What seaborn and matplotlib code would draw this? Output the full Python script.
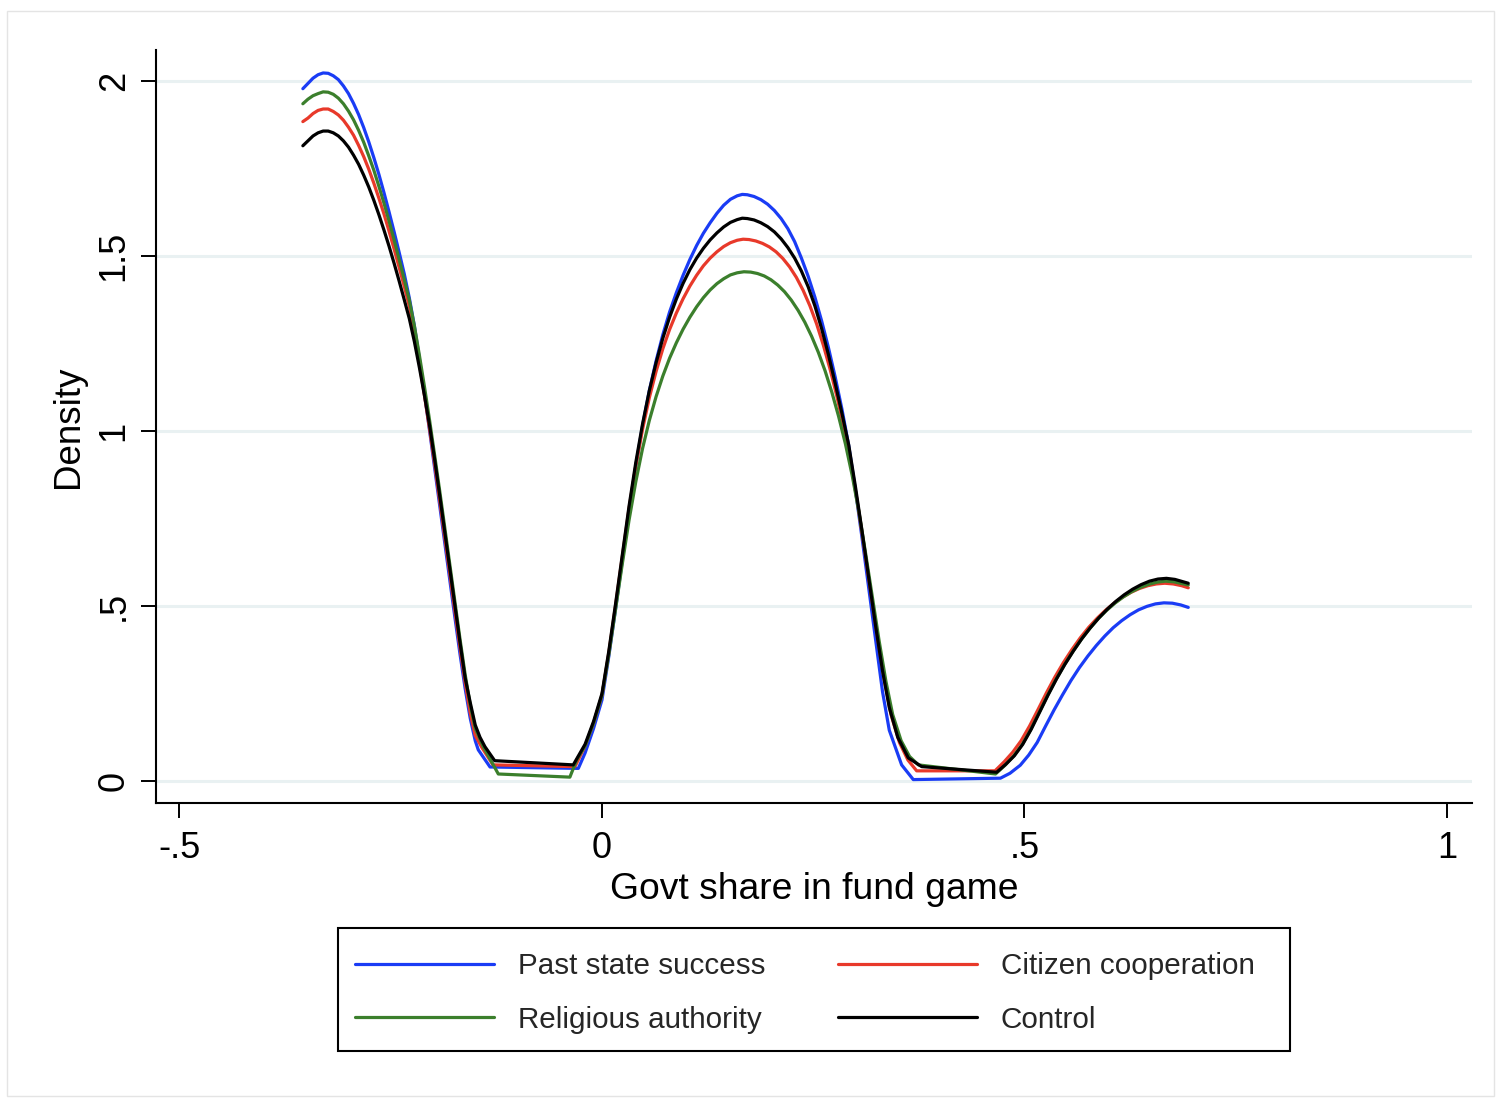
import numpy as np
import pandas as pd
import matplotlib
matplotlib.use("Agg")
import matplotlib.pyplot as plt
import seaborn as sns
from matplotlib.lines import Line2D
from matplotlib.patches import Rectangle

# Kernel density estimates of the government share, one curve per treatment arm.
# Left lobe grid shared by all four arms.
left_grid = [-0.354, -0.348, -0.342, -0.336, -0.330, -0.324, -0.318, -0.312, -0.306, -0.300,
             -0.294, -0.288, -0.282, -0.276, -0.270, -0.264, -0.258, -0.252, -0.246, -0.240,
             -0.234, -0.228, -0.222, -0.216, -0.210, -0.204, -0.198, -0.192, -0.186, -0.180,
             -0.174, -0.168, -0.162, -0.156, -0.150]
# Rising side of the middle lobe, shared grid
mid_left_grid = [0.000, 0.008, 0.016, 0.024, 0.032, 0.040, 0.048, 0.056, 0.064, 0.072,
                 0.080, 0.088, 0.096, 0.104, 0.112, 0.120, 0.128, 0.136, 0.144, 0.152, 0.160]

# --- Past state success ---
past_state_x = left_grid + [-0.1464, -0.1325, -0.028, -0.020, -0.010] + mid_left_grid + [
    0.166, 0.172, 0.180, 0.188, 0.196, 0.204, 0.212, 0.220, 0.228, 0.236, 0.244, 0.252,
    0.260, 0.268, 0.276, 0.284, 0.292, 0.300, 0.308, 0.316, 0.324, 0.332, 0.340, 0.3546,
    0.3684, 0.4715, 0.4828, 0.495, 0.505, 0.515, 0.525, 0.535, 0.545, 0.555, 0.565, 0.575,
    0.585, 0.595, 0.605, 0.615, 0.625, 0.635, 0.645, 0.655, 0.665, 0.675, 0.685, 0.6938]
past_state_y = [
    1.978, 1.993, 2.008, 2.018, 2.023, 2.022, 2.015, 2.004, 1.986, 1.964,
    1.936, 1.904, 1.867, 1.826, 1.781, 1.733, 1.681, 1.626, 1.569, 1.510,
    1.449, 1.380, 1.300, 1.205, 1.105, 1.000, 0.893, 0.786, 0.679, 0.572,
    0.466, 0.362, 0.265, 0.180, 0.115,
    0.089, 0.040, 0.036, 0.080, 0.150,
    0.232, 0.355, 0.490, 0.630, 0.770, 0.900, 1.015, 1.115, 1.200, 1.275,
    1.340, 1.395, 1.445, 1.490, 1.530, 1.565, 1.595, 1.622, 1.645, 1.662, 1.672,
    1.676, 1.675, 1.670, 1.661, 1.648, 1.630, 1.607, 1.578, 1.541, 1.494, 1.442, 1.382,
    1.314, 1.238, 1.154, 1.062, 0.958, 0.830, 0.690, 0.545, 0.400, 0.255, 0.145, 0.046,
    0.004, 0.008, 0.022, 0.045, 0.074, 0.110, 0.157, 0.203, 0.246, 0.287, 0.324, 0.357,
    0.387, 0.414, 0.438, 0.458, 0.475, 0.489, 0.499, 0.506, 0.509, 0.508, 0.503, 0.496]

# --- Citizen cooperation ---
citizen_x = left_grid + [-0.142, -0.129, -0.032, -0.020, -0.010] + mid_left_grid + [
    0.167, 0.174, 0.182, 0.190, 0.198, 0.206, 0.214, 0.222, 0.230, 0.238, 0.246, 0.254,
    0.262, 0.270, 0.278, 0.286, 0.294, 0.302, 0.310, 0.318, 0.326, 0.334, 0.342, 0.352,
    0.362, 0.3724, 0.4651, 0.476, 0.486, 0.496, 0.506, 0.516, 0.526, 0.536, 0.546, 0.556,
    0.566, 0.576, 0.586, 0.596, 0.606, 0.616, 0.626, 0.636, 0.646, 0.656, 0.666, 0.676,
    0.686, 0.6938]
citizen_y = [
    1.884, 1.894, 1.907, 1.916, 1.920, 1.920, 1.913, 1.903, 1.888, 1.868,
    1.845, 1.816, 1.784, 1.748, 1.708, 1.665, 1.620, 1.571, 1.520, 1.467,
    1.413, 1.357, 1.280, 1.192, 1.100, 1.005, 0.905, 0.800, 0.695, 0.590,
    0.484, 0.380, 0.282, 0.195, 0.130,
    0.095, 0.046, 0.041, 0.100, 0.165,
    0.245, 0.365, 0.500, 0.640, 0.778, 0.900, 1.005, 1.095, 1.170, 1.235,
    1.290, 1.337, 1.378, 1.414, 1.445, 1.472, 1.494, 1.512, 1.527, 1.538, 1.545,
    1.548, 1.547, 1.543, 1.536, 1.526, 1.512, 1.493, 1.469, 1.439, 1.402, 1.358, 1.306,
    1.245, 1.176, 1.099, 1.013, 0.915, 0.800, 0.672, 0.540, 0.410, 0.290, 0.190, 0.110,
    0.060, 0.029, 0.029, 0.055, 0.082, 0.115, 0.157, 0.204, 0.252, 0.297, 0.338, 0.375,
    0.409, 0.439, 0.465, 0.488, 0.508, 0.525, 0.539, 0.550, 0.558, 0.563, 0.565, 0.563,
    0.558, 0.552]

# --- Religious authority ---
religious_x = left_grid + [-0.1405, -0.1227, -0.038, -0.030, -0.020, -0.010] + mid_left_grid + [
    0.168, 0.176, 0.184, 0.192, 0.200, 0.208, 0.216, 0.224, 0.232, 0.240, 0.248, 0.256,
    0.264, 0.272, 0.280, 0.288, 0.296, 0.304, 0.312, 0.320, 0.328, 0.336, 0.344, 0.354,
    0.364, 0.3744, 0.4657, 0.477, 0.487, 0.497, 0.507, 0.517, 0.527, 0.537, 0.547, 0.557,
    0.567, 0.577, 0.587, 0.597, 0.607, 0.617, 0.627, 0.637, 0.647, 0.657, 0.667, 0.677,
    0.6938]
religious_y = [
    1.935, 1.948, 1.958, 1.964, 1.969, 1.968, 1.962, 1.951, 1.935, 1.914,
    1.889, 1.859, 1.825, 1.786, 1.745, 1.699, 1.651, 1.600, 1.546, 1.490,
    1.433, 1.374, 1.300, 1.215, 1.125, 1.030, 0.930, 0.828, 0.723, 0.617,
    0.511, 0.405, 0.305, 0.218, 0.150,
    0.098, 0.020, 0.011, 0.060, 0.100, 0.165,
    0.245, 0.360, 0.490, 0.620, 0.745, 0.855, 0.950, 1.030, 1.098, 1.157,
    1.208, 1.252, 1.291, 1.325, 1.355, 1.381, 1.403, 1.421, 1.435, 1.446, 1.452,
    1.455, 1.454, 1.450, 1.443, 1.432, 1.417, 1.398, 1.374, 1.345, 1.311, 1.271, 1.225,
    1.172, 1.111, 1.042, 0.964, 0.874, 0.770, 0.650, 0.525, 0.400, 0.285, 0.190, 0.115,
    0.070, 0.046, 0.020, 0.045, 0.071, 0.103, 0.145, 0.194, 0.243, 0.289, 0.331, 0.369,
    0.404, 0.435, 0.463, 0.487, 0.508, 0.526, 0.541, 0.553, 0.562, 0.568, 0.571, 0.569,
    0.560]

# --- Control ---
control_x = left_grid + [-0.1444, -0.1385, -0.127, -0.034, -0.020, -0.010] + mid_left_grid + [
    0.166, 0.172, 0.180, 0.188, 0.196, 0.204, 0.212, 0.220, 0.228, 0.236, 0.244, 0.252,
    0.260, 0.268, 0.276, 0.284, 0.292, 0.300, 0.308, 0.316, 0.324, 0.332, 0.340, 0.350,
    0.3625, 0.3784, 0.4671, 0.478, 0.488, 0.498, 0.508, 0.518, 0.528, 0.538, 0.548, 0.558,
    0.568, 0.578, 0.588, 0.598, 0.608, 0.618, 0.628, 0.638, 0.648, 0.658, 0.668, 0.678,
    0.6938]
control_y = [
    1.815, 1.829, 1.843, 1.852, 1.857, 1.857, 1.852, 1.843, 1.829, 1.811,
    1.788, 1.762, 1.731, 1.697, 1.659, 1.618, 1.574, 1.528, 1.479, 1.428,
    1.375, 1.321, 1.255, 1.180, 1.100, 1.015, 0.918, 0.815, 0.710, 0.605,
    0.500, 0.395, 0.295, 0.225, 0.160,
    0.125, 0.098, 0.058, 0.046, 0.105, 0.170,
    0.250, 0.370, 0.505, 0.645, 0.785, 0.910, 1.020, 1.115, 1.195, 1.265,
    1.325, 1.377, 1.422, 1.461, 1.494, 1.522, 1.546, 1.566, 1.583, 1.596, 1.604,
    1.608, 1.607, 1.603, 1.595, 1.584, 1.569, 1.549, 1.524, 1.494, 1.457, 1.412, 1.357,
    1.292, 1.218, 1.136, 1.050, 0.960, 0.840, 0.710, 0.575, 0.440, 0.315, 0.210, 0.125,
    0.066, 0.041, 0.025, 0.048, 0.072, 0.105, 0.148, 0.197, 0.246, 0.292, 0.334, 0.372,
    0.407, 0.438, 0.466, 0.491, 0.513, 0.532, 0.548, 0.561, 0.571, 0.577, 0.579, 0.576,
    0.565]

series_labels = ["Past state success", "Citizen cooperation", "Religious authority", "Control"]
series_colors = ["#1a3cf5", "#e8392a", "#3b7f2c", "#000000"]

x_ticks = [-0.5, 0, 0.5, 1]
x_tick_labels = ["-.5", "0", ".5", "1"]
y_ticks = [0, 0.5, 1, 1.5, 2]
y_tick_labels = ["0", ".5", "1", "1.5", "2"]

frames = []
for label, xs, ys in zip(series_labels,
                         [past_state_x, citizen_x, religious_x, control_x],
                         [past_state_y, citizen_y, religious_y, control_y]):
    frames.append(pd.DataFrame({"x": xs, "density": ys, "group": label}))
df = pd.concat(frames, ignore_index=True)

sns.set_theme(style="white")
plt.rcParams["font.family"] = ["Liberation Sans", "DejaVu Sans"]

W, H = 1496, 1098
fig = plt.figure(figsize=(W / 100, H / 100), dpi=100)
ax = fig.add_axes([156 / W, 1 - 803 / H, (1472 - 156) / W, (803 - 50) / H])

# outer frame of the graph region
fig.patches.append(Rectangle((7 / W, 2 / H), (W - 9) / W, (H - 13) / H,
                             transform=fig.transFigure, fill=False,
                             edgecolor="#e4e4e4", linewidth=1.0))

palette = dict(zip(series_labels, series_colors))
sns.lineplot(data=df, x="x", y="density", hue="group", units="group",
             estimator=None, sort=False, palette=palette,
             hue_order=series_labels, linewidth=2.3, legend=False, ax=ax)
for line in ax.get_lines():
    line.set_solid_joinstyle("round")
    line.set_solid_capstyle("round")

ax.set_xlim(-0.5278, 1.0296)
ax.set_ylim(-0.0629, 2.0886)

ax.set_yticks(y_ticks)
ax.set_yticklabels(y_tick_labels, rotation=90, va="center")
ax.set_xticks(x_ticks)
ax.set_xticklabels(x_tick_labels)

ax.yaxis.grid(True, color="#e9f1f2", linewidth=2.2)
ax.xaxis.grid(False)
ax.set_axisbelow(True)

for side in ["top", "right"]:
    ax.spines[side].set_visible(False)
for side in ["left", "bottom"]:
    ax.spines[side].set_color("black")
    ax.spines[side].set_linewidth(1.5)

ax.tick_params(axis="both", which="major", direction="out", length=10.5, width=1.4,
               color="black", labelsize=26, labelcolor="black", left=True, bottom=True)
ax.tick_params(axis="y", pad=7)
ax.tick_params(axis="x", pad=10)

ax.set_xlabel("Govt share in fund game", fontsize=26.8, color="black", labelpad=4)
ax.set_ylabel("Density", fontsize=26.5, color="black", labelpad=8)

# legend: two rows, boxed
handles = [Line2D([], [], color=c, linewidth=2.3) for c in series_colors]
order = [0, 2, 1, 3]
leg = fig.legend([handles[i] for i in order], [series_labels[i] for i in order],
                 loc="center left", bbox_to_anchor=(355 / W, 1 - 993 / H),
                 ncol=2, fontsize=21.3, frameon=False,
                 handlelength=4.7, handletextpad=0.8, columnspacing=2.47,
                 borderpad=0, labelspacing=0.85, borderaxespad=0)
fig.patches.append(Rectangle((338 / W, 1 - 1051 / H), (1290 - 338) / W, (1051 - 928) / H,
                             transform=fig.transFigure, fill=False,
                             edgecolor="black", linewidth=1.5))

fig.savefig("out.png", dpi=100, facecolor="white")
